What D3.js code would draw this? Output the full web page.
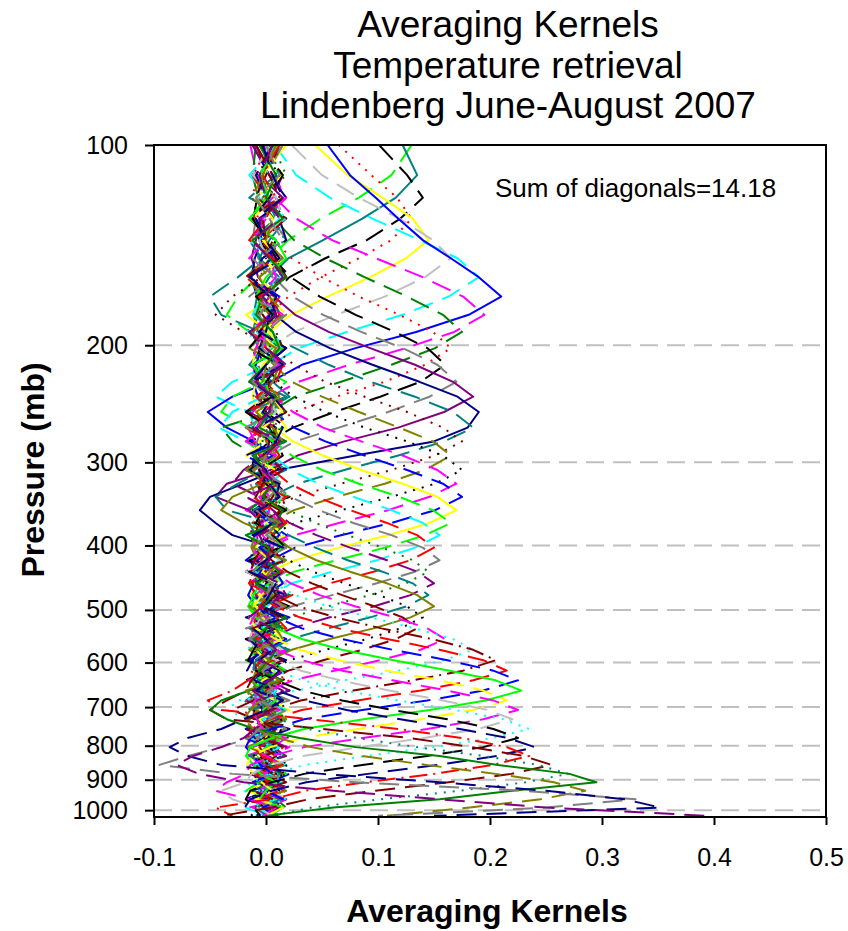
<!DOCTYPE html>
<html>
<head>
<meta charset="utf-8">
<script src="https://cdn.jsdelivr.net/npm/d3@7"></script>
<style>
  body { margin: 0; background: #fff; }
  svg text { font-family: "Liberation Sans", Arial, sans-serif; }
</style>
</head>
<body>
<div id="chart"></div>
<script>
// retrieval pressure levels (mb), top to bottom
const pressure = [100,111,120,129,139,148,158,169,180,191,202,214,227,239,252,266,279,293,308,323,338,354,370,386,403,421,438,456,475,494,513,533,553,574,595,617,638,661,684,707,730,755,779,804,829,855,882,908,935,963,991,1020];

// one averaging kernel per level, values in units of 0.001
const ak100 = [130,112,83,49,20,3,-8,-25,-35,-15,6,-12,18,3,-9,15,-18,0,9,-6,21,-3,-12,6,15,-9,0,18,-15,3,9,-6,12,-18,0,15,-3,6,-12,9,18,-6,0,12,-15,3,-9,15,6,-3,0,9];
const ak111 = [122,135,116,86,51,20,3,-8,-11,-7,-3,-15,6,21,-3,-12,9,0,18,-9,3,-18,12,6,-6,15,0,-12,21,-3,9,-15,3,18,-9,0,12,-6,-18,6,15,-3,9,-12,0,18,-6,3,-15,12,6,-9];
const ak120 = [101,126,140,120,90,53,21,3,-8,-11,-7,-3,12,-6,0,18,-15,6,-3,9,21,-12,3,-9,15,0,-18,6,12,-3,-6,18,0,-15,9,3,-9,21,-6,0,12,-18,6,15,-3,-12,9,0,18,-6,3,-9];
const ak129 = [65,94,117,130,112,83,49,20,3,-8,-10,-7,-3,15,-3,-18,6,0,12,-9,21,3,-6,-15,9,18,0,-12,6,-3,15,-18,3,9,-6,0,21,-9,12,-15,3,6,-3,18,-12,0,9,-6,15,-18,3,0];
const ak139 = [44,73,104,131,145,125,93,55,22,3,-9,-12,-7,-3,9,18,-6,0,-15,12,3,-9,21,-3,6,-18,0,15,-6,9,-12,18,3,-3,-15,6,12,0,-9,21,-6,3,-18,9,0,15,-3,-12,6,18,-9,0];
const ak148 = [23,50,83,119,149,165,142,106,63,25,3,-10,-13,-8,-3,-6,15,3,-18,9,0,21,-12,6,-3,12,-9,18,0,-15,6,3,-6,15,-18,9,0,-3,21,-9,6,12,-15,0,18,-6,3,-12,9,15,-3,0];
const ak158 = [8,27,57,95,137,171,190,163,122,72,29,4,-30,-45,-15,-10,9,-12,18,3,-6,0,15,-18,6,12,-3,-9,21,0,-15,9,3,-6,18,-12,0,6,-18,15,3,-9,12,0,-3,18,-15,6,9,-6,0,12];
const ak169 = [55,75,98,118,140,165,190,210,181,134,80,32,4,-30,-52,-35,-11,6,-15,0,18,-9,3,12,-3,-18,9,15,0,-6,21,-12,3,6,-9,18,0,-15,9,-3,12,6,-18,0,15,-6,3,9,-12,18,0,-3];
const ak180 = [-14,-8,8,27,59,98,140,176,195,168,125,74,29,4,-12,-16,-10,-4,15,-6,3,-18,9,21,0,-12,6,-3,18,-9,0,12,-15,3,9,-6,15,0,-18,6,12,-3,-9,21,3,-12,0,9,-6,18,-15,3];
const ak191 = [-9,-12,-7,7,25,53,88,126,158,175,151,112,67,26,4,-40,-30,-9,-4,9,0,-15,18,6,-3,12,-9,3,21,-12,0,15,-6,9,-18,3,6,-3,18,0,-9,12,-15,6,3,-6,15,0,-12,9,18,-3];
const ak202 = [-3,-8,-12,-7,7,23,50,83,119,149,165,142,106,63,25,3,-10,-13,-8,-3,12,-3,6,-15,0,18,-9,3,15,-6,-12,9,0,21,-3,6,-18,12,3,-9,15,0,-6,18,-12,3,9,-3,0,15,-9,6];
const ak214 = [6,-3,-8,-11,-6,6,22,48,80,115,144,160,138,102,61,24,3,-10,-13,-8,-3,18,-6,0,12,-15,9,3,-3,21,-12,6,0,-9,15,3,-18,9,-6,12,0,18,-3,-12,6,15,-9,0,3,-15,9,6];
const ak227 = [-3,12,-3,-9,-12,-7,7,24,51,85,122,153,170,146,109,65,26,3,-10,-14,-9,-3,15,-6,3,-12,18,0,-9,6,12,-18,3,9,-3,15,-6,0,21,-12,6,-9,12,3,-15,0,18,-6,9,-3,-12,6];
const ak239 = [9,-6,15,-4,-9,-13,-7,7,26,56,93,133,167,185,159,118,70,28,4,-35,-45,-15,-4,3,18,-9,0,-15,12,6,-3,9,-18,0,15,-6,3,21,-9,-3,12,0,-15,6,18,-12,3,9,-6,0,15,-3];
const ak252 = [-12,3,18,-6,-4,-10,-13,-8,8,27,57,95,137,171,190,180,150,80,10,-20,-50,-59,-45,-30,6,-9,15,0,-3,12,-18,9,3,-6,18,0,-12,6,15,-3,-9,21,0,-15,9,3,-6,12,0,-18,6,9];
const ak266 = [15,-3,0,9,-15,-4,-25,-50,-40,-5,26,56,93,133,167,185,159,118,70,28,4,-11,-15,-9,-4,18,-6,3,-15,9,0,12,-9,21,-3,-12,6,0,15,-18,3,9,-6,12,0,-3,18,-9,6,-15,3,9];
const ak279 = [0,12,-9,6,18,-3,-4,-30,-45,-20,7,25,53,88,126,158,175,151,112,67,26,4,-11,-14,-9,-4,9,-15,3,18,0,-6,12,-12,6,15,-3,0,-18,9,3,-9,21,-6,0,12,-15,6,18,-3,-9,3];
const ak293 = [-6,15,3,-12,9,0,-18,-3,-8,-12,-7,7,23,50,83,119,149,165,142,106,63,25,3,-10,-13,-8,-3,12,-3,18,-9,0,6,-15,3,15,-6,9,0,-12,18,-3,6,-18,12,3,-9,0,15,-6,9,-3];
const ak308 = [12,-9,0,18,-3,6,-15,9,-4,-9,-12,-7,7,25,53,88,126,158,175,151,112,67,26,4,-11,-14,-9,-4,6,15,-9,3,-18,12,0,-6,18,-3,9,-12,3,15,0,-9,6,21,-15,0,12,-6,3,9];
const ak323 = [-9,6,18,-3,0,-15,12,3,-6,-3,-9,-12,-7,7,24,51,85,122,153,170,146,109,65,26,3,-10,-14,-9,-3,15,0,-12,6,18,-6,3,-15,9,0,12,-3,-9,18,6,-18,0,9,15,-6,3,-12,6];
const ak338 = [3,-12,9,15,-6,0,18,-9,6,-3,-4,-9,-12,-7,7,25,53,88,126,158,175,151,112,67,26,4,-11,-14,-9,-4,9,-6,18,0,-15,3,12,-9,6,15,-3,-18,9,0,6,-12,21,3,-6,0,12,-9];
const ak354 = [18,-3,6,-12,0,15,-6,9,-18,3,12,-3,-9,-12,-7,7,24,51,85,122,153,170,146,109,65,26,3,-10,-14,-9,-3,6,15,-9,0,12,-3,-15,9,18,-6,3,0,-12,6,15,-9,3,-18,9,0,6];
const ak370 = [-6,12,0,-15,9,3,18,-9,-3,6,15,-12,-3,-30,-40,-15,7,23,50,83,119,149,165,142,106,63,25,3,-10,-13,-8,-3,12,-6,3,18,-15,0,9,-3,6,-12,15,0,-9,3,18,-6,-18,9,0,6];
const ak386 = [9,-15,3,12,-6,0,18,-3,-12,6,15,-9,0,-3,-30,-42,-18,6,22,47,78,112,140,155,133,99,59,23,3,-9,-12,-8,-3,3,15,-6,-12,9,0,18,-3,6,-15,12,0,-9,3,15,-6,9,-18,0];
const ak403 = [-3,9,15,-12,0,6,-18,12,3,-6,9,0,-15,18,-3,-8,-11,-6,6,21,45,75,108,135,150,129,96,57,23,3,-9,-12,-8,-3,6,-12,15,0,-3,9,-18,6,12,-6,0,15,-9,3,18,-12,0,6];
const ak421 = [15,0,-9,6,18,-12,3,9,-6,0,-15,12,6,-3,18,-3,-8,-11,-6,6,22,47,78,112,140,155,133,99,59,23,3,-9,-12,-8,-3,-6,12,3,-15,9,0,18,-9,6,-3,15,-12,0,9,-6,3,12];
const ak438 = [6,18,-3,-12,9,0,15,-6,3,-18,12,6,-9,0,15,-3,-3,-7,-10,-6,6,20,44,73,104,131,145,125,93,55,22,3,-9,-12,-7,-3,12,-6,0,15,-15,3,9,-3,18,-9,0,6,-12,15,3,-6];
const ak456 = [-12,3,15,-6,0,9,-18,6,12,-3,0,18,-9,3,-15,9,6,-3,-20,-30,-6,6,21,45,75,108,135,150,129,96,57,23,3,-9,-12,-8,-3,15,-6,3,12,-12,0,18,-3,9,-15,6,0,-9,12,3];
const ak475 = [0,9,-15,18,3,-6,12,-3,6,-12,15,0,-9,18,-18,3,9,-6,-3,-25,-45,-35,6,20,44,73,104,131,145,125,93,55,22,3,-9,-12,-7,-3,6,-12,18,0,-3,9,-15,3,12,-6,0,15,-9,3];
const ak494 = [9,-3,0,15,-12,6,18,-9,3,0,-15,12,6,-6,18,-3,0,9,-12,-3,-30,-40,-20,6,21,45,75,108,135,150,129,96,57,23,3,-9,-12,-8,-3,3,15,-6,9,-15,0,12,-3,6,18,-9,0,6];
const ak513 = [-6,12,3,-15,9,0,18,-3,-9,6,15,-12,0,3,-18,9,6,-3,12,0,-3,-7,-10,-6,6,20,42,70,101,126,140,120,90,53,21,3,-8,-11,-7,-3,15,-6,0,9,-12,3,18,-3,6,-15,0,12];
const ak533 = [12,0,-9,18,-3,6,-15,3,9,-6,0,15,-12,6,18,-9,3,0,-18,12,6,-3,-7,-9,-5,5,19,41,68,97,122,135,116,86,51,20,3,-8,-11,-30,-10,9,-3,15,0,-12,6,18,-6,3,-9,12];
const ak553 = [-3,15,6,-12,0,9,18,-6,3,-15,12,0,-9,6,15,-3,-18,9,0,12,-6,3,-3,-8,-11,-6,6,22,48,80,115,144,160,138,102,61,24,3,-10,-13,-8,-3,6,-12,0,15,-3,9,-9,18,3,-6];
const ak574 = [9,-6,0,18,-12,3,15,-3,6,-18,0,12,-9,3,9,-15,18,0,-6,6,15,-3,-12,-4,-9,-13,-7,7,26,56,93,133,167,185,159,118,70,28,-25,-35,-15,-9,-4,3,15,-9,0,12,-6,18,-3,6];
const ak595 = [-9,3,12,-15,6,0,18,-6,-3,9,15,-12,3,0,-18,6,12,-3,9,-9,0,15,-6,3,-4,-10,-14,-8,8,29,62,103,148,185,205,176,131,78,31,4,-12,-16,-10,-4,9,-3,18,0,-12,6,15,-6];
const ak617 = [6,-12,0,15,-3,9,-18,3,12,-6,0,18,-9,6,-15,3,9,0,-3,12,-12,6,18,-6,0,-4,-11,-15,-9,9,30,65,108,155,194,215,185,138,82,32,4,-13,-17,-11,-4,15,-9,3,12,-6,0,9];
const ak638 = [-3,9,15,-9,0,6,-15,12,3,-6,18,0,-12,9,3,-3,15,-18,6,0,12,-9,3,18,-6,9,-5,-11,-16,-9,9,32,68,113,162,203,225,194,144,86,34,5,-14,-18,-11,-5,6,-12,0,15,-3,9];
const ak661 = [12,-6,3,-15,9,18,0,-9,6,-3,15,-12,0,3,9,-18,6,12,-6,0,18,-3,-9,6,15,0,-12,-5,-11,-16,-9,9,32,68,114,164,205,228,196,146,87,34,5,-14,-18,-11,-5,9,0,-6,15,3];
const ak684 = [0,15,-9,6,-3,12,-15,3,18,-6,9,0,-12,6,15,-3,0,-18,9,3,-6,12,0,18,-9,3,-3,6,-4,-11,-15,-9,9,30,65,108,155,194,215,185,138,82,32,4,-13,-17,-11,-4,6,-9,15,0];
const ak707 = [-9,6,18,0,-12,3,9,-6,15,-3,0,12,-15,6,3,-9,18,0,-6,9,-18,3,12,-3,6,0,15,-12,3,-5,-11,-16,-9,9,32,68,113,162,203,225,194,144,86,34,5,-14,-18,-35,-45,-15,9,-3];
const ak730 = [3,-12,9,15,-6,0,18,-3,-9,6,12,0,-15,3,9,-6,18,-12,0,6,15,-3,-9,3,12,0,-18,6,9,-3,-4,-11,-15,-9,9,31,66,110,158,198,220,189,141,84,33,4,-13,-18,-40,-30,-8,6];
const ak755 = [9,0,-6,18,-15,3,12,-3,6,-9,15,0,-12,9,3,-18,6,15,-3,0,12,-6,3,-15,9,18,-9,0,6,-3,12,-5,-12,-16,-9,9,33,71,118,169,212,235,202,150,89,35,5,-14,-19,-12,-5,3];
const ak779 = [-6,15,3,-12,0,9,18,-9,6,-3,-15,12,0,6,-18,3,9,15,-6,0,12,-3,-9,6,18,0,-12,3,9,-6,15,0,-5,-11,-16,-9,9,32,68,113,162,203,225,194,144,86,34,5,-14,-18,-11,-5];
const ak804 = [6,-9,0,12,18,-3,-15,9,3,0,-6,15,-12,6,18,-9,3,0,-18,12,9,-3,6,-12,15,0,3,-9,18,-6,0,9,-15,-5,-12,-17,-10,10,34,72,120,173,216,240,206,154,91,36,5,-14,-19,-12];
const ak829 = [12,-3,9,0,-15,6,18,-6,3,-12,0,15,9,-9,6,-18,3,12,0,-6,18,-3,-12,9,6,0,15,-15,3,-6,9,18,-9,0,-5,-12,-16,-30,-52,-40,40,118,175,215,235,202,150,89,35,5,-45,-30];
const ak855 = [-9,6,15,-3,0,12,-18,3,9,-6,18,0,-12,6,3,-15,9,0,15,-3,-9,12,6,-6,0,18,-15,3,9,-3,12,-12,0,6,15,-5,-13,-18,-35,-50,-35,50,128,184,230,255,219,163,97,38,5,-40];
const ak882 = [3,12,-6,0,18,-9,6,-3,15,-15,0,9,3,-12,18,6,-6,0,-18,9,12,-3,3,15,-9,0,6,-15,18,-3,9,0,-12,6,3,-6,-5,-14,-19,-11,11,38,81,135,194,243,270,232,173,103,41,5];
const ak908 = [-6,9,0,15,-12,3,18,-3,-9,6,12,0,-15,9,3,-6,18,-12,0,6,-3,15,9,-18,3,0,12,-9,6,-3,18,0,-12,9,3,-6,15,-15,-40,-50,-35,-10,30,80,155,207,271,295,220,155,60,0];
const ak935 = [9,-3,-12,6,0,15,-6,3,18,-15,9,0,-3,12,-9,6,15,0,-18,3,9,-6,12,0,-12,18,3,-3,6,-15,0,9,15,-9,3,-3,12,-18,-6,-14,-20,-11,11,40,86,143,205,257,285,245,182,108];
const ak963 = [0,12,-9,3,15,-6,6,-15,18,0,-3,9,-12,3,6,-18,12,0,-6,15,3,-9,9,0,18,-3,-12,6,0,15,-6,3,-15,9,12,-3,0,6,-9,18,3,-6,-15,-40,-70,-95,-30,80,230,330,250,100];
const ak991 = [-3,6,15,-9,0,12,-15,3,9,-6,18,0,-12,6,-3,15,9,-18,0,3,12,-6,6,-9,15,0,-15,9,3,-3,18,-12,0,6,-6,12,3,-9,15,0,-20,-40,-70,-86,-70,-40,50,155,250,320,352,150];
const ak1020 = [6,-6,0,12,-12,3,15,-3,9,-15,0,18,-9,6,3,-12,12,0,-3,9,-18,6,15,-6,0,3,-9,12,18,-3,-15,6,0,9,-6,15,3,-12,0,6,-9,-10,-20,-40,-65,-80,-60,-20,60,155,250,395];

const kernelRows = [ak100,ak111,ak120,ak129,ak139,ak148,ak158,ak169,ak180,ak191,ak202,ak214,ak227,ak239,ak252,ak266,ak279,ak293,ak308,ak323,ak338,ak354,ak370,ak386,ak403,ak421,ak438,ak456,ak475,ak494,ak513,ak533,ak553,ak574,ak595,ak617,ak638,ak661,ak684,ak707,ak730,ak755,ak779,ak804,ak829,ak855,ak882,ak908,ak935,ak963,ak991,ak1020];

const pressureTicks = [100,200,300,400,500,600,700,800,900,1000];
const kernelTicks = [-0.1,0.0,0.1,0.2,0.3,0.4,0.5];
const titleLines = ["Averaging Kernels","Temperature retrieval","Lindenberg June-August 2007"];
const diagonalSum = 14.18;

// line styles (SigmaPlot-like colour set)
const palette = {black:"#000000", red:"#FF0000", green:"#00FF00", yellow:"#FFFF00", blue:"#0000FF",
  magenta:"#FF00FF", cyan:"#00FFFF", gray:"#808080", darkred:"#800000", darkgreen:"#008000",
  navy:"#000080", olive:"#808000", purple:"#800080", teal:"#008080", silver:"#C0C0C0"};
const dashes = {solid:null, dash:"20,10", dot:"2,7", dashdot:"18,6,2,6"};
const seriesColor = ["green","teal","black","red","yellow","silver","cyan","blue","magenta","darkgreen",
  "red","black","gray","purple","navy","teal","darkred","olive","black","magenta",
  "blue","yellow","green","cyan","red","gray","darkgreen","purple","teal","olive",
  "black","darkred","magenta","cyan","darkred","red","blue","green","yellow","magenta",
  "silver","cyan","black","navy","red","darkred","teal","darkgreen","olive","gray","navy","purple"];
const seriesDash = ["dash","solid","dash","dot","solid","dash","dash","solid","dash","dash",
  "dot","dash","dash","solid","solid","dash","dot","dash","dot","dash",
  "dash","solid","dash","dash","dash","dash","dot","dash","dash","solid",
  "dot","dash","dash","dot","dashdot","dash","dash","solid","dash","dash",
  "dash","dot","dash","dash","dashdot","dash","dot","solid","dash","dash","dash","dash"];

function AveragingKernelChart() {

    var width = 848;
    var height = 931;

    var plotLeft = 154;
    var plotRight = 826;
    var plotTop = 145;
    var plotBottom = 817;

    function chart(container) {

        const svg = d3.create("svg")
            .attr("width", width)
            .attr("height", height);

        // x: kernel value, y: log pressure
        var x = d3.scaleLinear()
            .domain([-0.1, 0.5])
            .range([plotLeft, plotRight]);

        var y = d3.scaleLog()
            .domain([100, 1024])
            .range([plotTop, plotBottom]);

        svg.append("clipPath").attr("id", "plotClip")
            .append("rect")
            .attr("x", plotLeft).attr("y", plotTop)
            .attr("width", plotRight - plotLeft).attr("height", plotBottom - plotTop);

        // dashed grey grid lines
        svg.append("g")
            .selectAll("line")
            .data(pressureTicks.filter(p => p > 100))
            .join("line")
            .attr("x1", plotLeft).attr("x2", plotRight)
            .attr("y1", d => y(d)).attr("y2", d => y(d))
            .attr("stroke", "#c0c0c0")
            .attr("stroke-width", 2)
            .attr("stroke-dasharray", "18,9");

        // the kernels
        const line = d3.line()
            .defined((d, i) => i < pressure.length)
            .x(d => x(d / 1000))
            .y((d, i) => y(pressure[i]));

        svg.append("g")
            .attr("clip-path", "url(#plotClip)")
            .selectAll("path")
            .data(kernelRows)
            .join("path")
            .attr("d", line)
            .attr("fill", "none")
            .attr("stroke", (d, i) => palette[seriesColor[i]])
            .attr("stroke-width", 2)
            .attr("stroke-dasharray", (d, i) => dashes[seriesDash[i]])
            .attr("stroke-linejoin", "round");

        // frame
        svg.append("rect")
            .attr("x", plotLeft).attr("y", plotTop)
            .attr("width", plotRight - plotLeft).attr("height", plotBottom - plotTop)
            .attr("fill", "none")
            .attr("stroke", "#000")
            .attr("stroke-width", 2);

        //Add the y-axis.
        const gy = svg.append("g")
            .attr("transform", `translate(${plotLeft},0)`)
            .call(d3.axisLeft(y)
                .tickValues(pressureTicks)
                .tickFormat(d3.format("d"))
                .tickSize(9)
                .tickPadding(17)
                .tickSizeOuter(0));
        gy.select(".domain").remove();
        gy.selectAll("line").attr("stroke-width", 2);
        gy.selectAll("text")
            .attr("font-size", 25)
            .attr("font-family", "Liberation Sans, Arial, sans-serif")
            .attr("fill", "#000");

        //Add the x-axis.
        const gx = svg.append("g")
            .attr("transform", `translate(0,${plotBottom})`)
            .call(d3.axisBottom(x)
                .tickValues(kernelTicks)
                .tickFormat(d => d.toFixed(1))
                .tickSize(8)
                .tickPadding(23)
                .tickSizeOuter(0));
        gx.select(".domain").remove();
        gx.selectAll("line").attr("stroke-width", 2);
        gx.selectAll("text")
            .attr("font-size", 25)
            .attr("font-family", "Liberation Sans, Arial, sans-serif")
            .attr("fill", "#000");

        // title
        svg.append("g")
            .selectAll("text")
            .data(titleLines)
            .join("text")
            .attr("x", 508)
            .attr("y", (d, i) => 37 + i * 40.5)
            .attr("text-anchor", "middle")
            .attr("font-size", 37)
            .text(d => d);

        svg.append("text")
            .attr("x", 495)
            .attr("y", 197)
            .attr("font-size", 26)
            .text("Sum of diagonals=" + diagonalSum.toFixed(2));

        // axis titles
        svg.append("text")
            .attr("transform", "translate(44,470) rotate(-90)")
            .attr("text-anchor", "middle")
            .attr("font-size", 32)
            .attr("font-weight", "bold")
            .text("Pressure (mb)");

        svg.append("text")
            .attr("x", 487)
            .attr("y", 922)
            .attr("text-anchor", "middle")
            .attr("font-size", 32)
            .attr("font-weight", "bold")
            .text("Averaging Kernels");

        d3.select(container.appendChild(svg.node()));
    }

    return chart;
}

AveragingKernelChart()(document.getElementById("chart"));
</script>
</body>
</html>
